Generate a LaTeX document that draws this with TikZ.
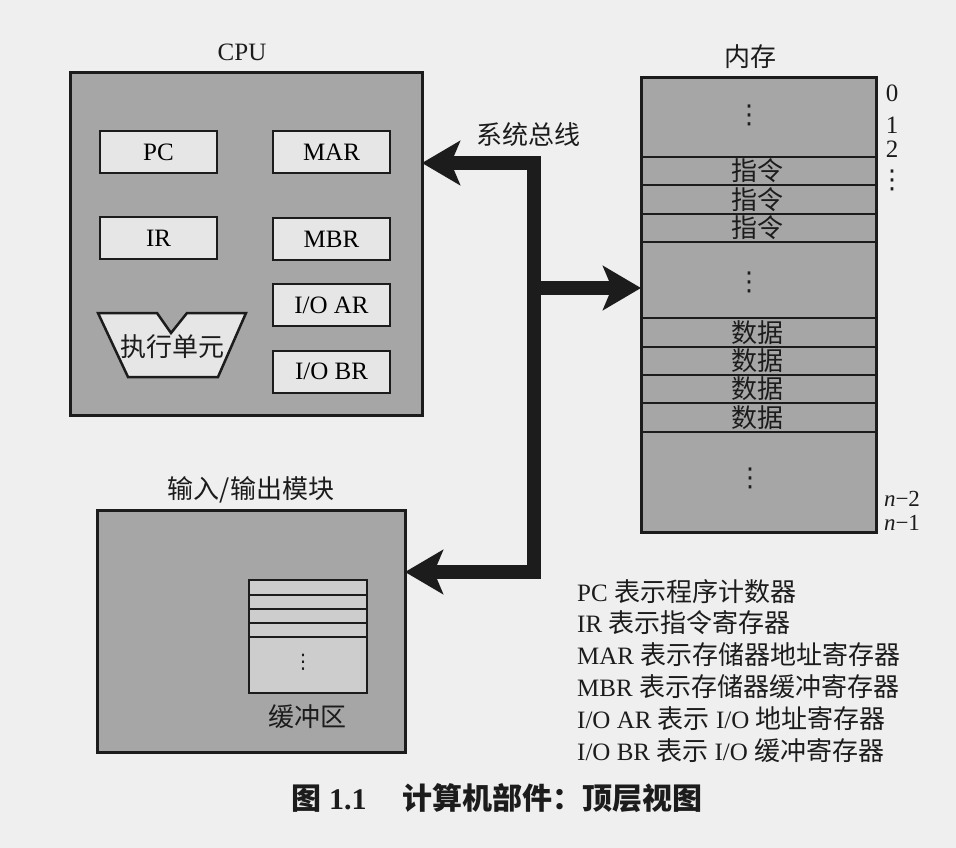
\documentclass[tikz,border=0pt]{standalone}
\usepackage{fontspec}
\setmainfont{Liberation Serif}
\newfontfamily\cjk{Noto Sans CJK SC}
\newfontfamily\symf{DejaVu Sans}
\usetikzlibrary{arrows.meta}
\newcommand\zhtxt[1]{{\cjk\fontsize{26}{30}\selectfont #1}}
\definecolor{paper}{HTML}{EFEFEF}
\definecolor{boxgray}{HTML}{A6A6A6}
\definecolor{reggray}{HTML}{E6E6E6}
\definecolor{bufgray}{HTML}{CDCDCD}
\definecolor{ink}{HTML}{1C1C1C}
\begin{document}
\begin{tikzpicture}[x=1pt,y=-1pt,
  bigbox/.style={draw=ink, line width=3pt, fill=boxgray, inner sep=0pt, outer sep=0pt, anchor=north west},
  regbox/.style={draw=ink, line width=2pt, fill=reggray, inner sep=0pt, outer sep=0pt, minimum width=117pt, minimum height=42pt, font=\fontsize{25}{28}\selectfont},
  sepline/.style={draw=ink, line width=2.5pt},
  thinsep/.style={draw=ink, line width=2pt},
  bus/.style={draw=ink, line width=14pt, line join=miter, -{Stealth[length=38pt,width=44pt,inset=9pt]}},
  lat/.style={inner sep=0pt, text=ink, font=\fontsize{25}{28}\selectfont},
  zh/.style={inner sep=0pt, text=ink, font=\cjk\fontsize{26}{30}\selectfont},
  vdot/.style={inner sep=0pt, text=ink, font=\symf\fontsize{26}{28}\selectfont},
  legend/.style={inner sep=0pt, text=ink, anchor=west, font=\fontsize{25}{28}\selectfont}]
\fill[paper] (0,0) rectangle (956,848);
\useasboundingbox (0,0) rectangle (956,848);

% CPU
\node[bigbox, minimum width=352pt, minimum height=342pt] (cpu) at (70,73) {};
\node[lat] (cpulbl) at (242,52) {CPU};
\node[regbox] (pc) at (158.5,152) {PC};
\node[regbox] (mar) at (331.5,152.5) {MAR};
\node[regbox] (ir) at (158.5,238) {IR};
\node[regbox] (mbr) at (331.5,239) {MBR};
\node[regbox] (ioar) at (331.5,305) {I/O AR};
\node[regbox] (iobr) at (331.5,371.5) {I/O BR};
\draw[draw=ink, line width=2.5pt, fill=reggray, line join=miter]
  (98,313) -- (157,313) -- (171,333) -- (187,313) -- (246,313) -- (218,377) -- (128,377) -- cycle;
\node[zh] (exu) at (172,347) {执行单元};

% Memory
\node[bigbox, minimum width=235pt, minimum height=454pt] (mem) at (641,78) {};
\node[zh] (memlbl) at (750,57) {内存};
\foreach \yy in {157,185,214,242,318,347,375,403,432}
  \draw[sepline] (641,\yy) -- (876,\yy);
\node[vdot] (md1) at (749,115) {⋮};
\node[zh] (in1) at (757,171) {指令};
\node[zh] (in2) at (757,199.5) {指令};
\node[zh] (in3) at (757,228) {指令};
\node[vdot] (md2) at (749,282) {⋮};
\node[zh] (d1) at (757,332.5) {数据};
\node[zh] (d2) at (757,361) {数据};
\node[zh] (d3) at (757,389) {数据};
\node[zh] (d4) at (757,417.5) {数据};
\node[vdot] (md3) at (750,478) {⋮};
\node[lat] (a0) at (892,93) {0};
\node[lat] (a1) at (892,125) {1};
\node[lat] (a2) at (892,149) {2};
\node[vdot] (a3) at (892,180) {⋮};
\node[lat, font=\fontsize{23}{26}\selectfont] (an2) at (902,499) {\textit{n}−2};
\node[lat, font=\fontsize{23}{26}\selectfont] (an1) at (902,523) {\textit{n}−1};

% I/O module
\node[bigbox, minimum width=308pt, minimum height=242pt] (io) at (97,510) {};
\node[zh] (iolbl) at (251,490) {输入/输出模块};
\node[draw=ink, line width=2pt, fill=bufgray, anchor=north west, minimum width=118pt, minimum height=113pt, inner sep=0pt, outer sep=0pt] (buf) at (249,580) {};
\foreach \yy in {595,609,623,637}
  \draw[thinsep] (249,\yy) -- (367,\yy);
\node[vdot, font=\symf\fontsize{20}{22}\selectfont] (bd) at (303,662) {⋮};
\node[zh] (buflbl) at (307,717) {缓冲区};

% System bus
\coordinate (j) at (534,288);
\coordinate (jt) at (534,163);
\coordinate (jb) at (534,572);
\draw[bus] (j) -- (jt) -- (cpu.east |- jt);
\draw[bus] (j) -- (mem.west |- j);
\draw[bus] (j) -- (jb) -- (io.east |- jb);
\node[zh] (buslbl) at (528,135) {系统总线};

% Legend
\node[legend] (l1) at (577,592) {PC \zhtxt{表示程序计数器}};
\node[legend] (l2) at (577,623) {IR \zhtxt{表示指令寄存器}};
\node[legend] (l3) at (577,655) {MAR \zhtxt{表示存储器地址寄存器}};
\node[legend] (l4) at (577,687) {MBR \zhtxt{表示存储器缓冲寄存器}};
\node[legend] (l5) at (577,719) {I/O AR \zhtxt{表示} I/O \zhtxt{地址寄存器}};
\node[legend] (l6) at (577,751) {I/O BR \zhtxt{表示} I/O \zhtxt{缓冲寄存器}};

% Caption
\node[inner sep=0pt, text=ink] (cap) at (497,798)
  {\bfseries\fontsize{30}{34}\selectfont {\cjk 图} 1.1\hspace{36pt}{\cjk 计算机部件：顶层视图}};
\end{tikzpicture}
\end{document}
